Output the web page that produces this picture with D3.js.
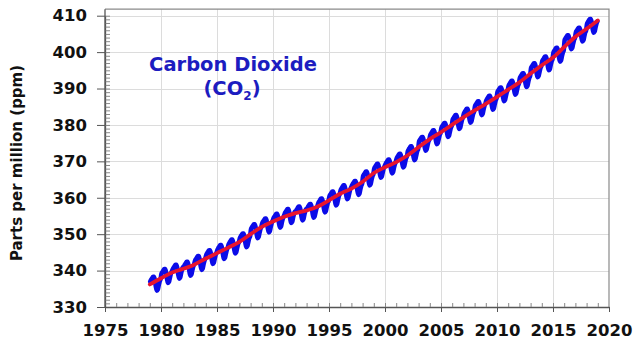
<!DOCTYPE html>
<html><head><meta charset="utf-8">
<script src="https://cdn.jsdelivr.net/npm/d3@7"></script>
<style>body{margin:0;background:#fff}</style>
</head><body><svg id="c" width="633" height="341"></svg>
<script>
const xTicks = [1975,1980,1985,1990,1995,2000,2005,2010,2015,2020];
const yTicks = [330,340,350,360,370,380,390,400,410];
const firstYear = 1979;
// monthly mean CO2 (ppm), one row per year, Jan..Dec
const monthlyCO2 = [
[337.0,337.5,337.9,338.3,338.3,337.3,335.6,334.5,334.8,335.9,337.0,337.6],
[339.1,339.6,340.0,340.4,340.4,339.4,337.7,336.6,336.9,338.0,339.1,339.7],
[340.3,340.8,341.2,341.6,341.6,340.6,338.9,337.8,338.1,339.2,340.3,340.9],
[341.1,341.6,342.0,342.4,342.4,341.4,339.7,338.6,338.9,340.0,341.1,341.7],
[342.7,343.2,343.6,344.0,344.0,343.0,341.3,340.2,340.5,341.6,342.7,343.3],
[344.3,344.8,345.2,345.6,345.6,344.6,342.9,341.8,342.1,343.2,344.3,344.9],
[345.7,346.2,346.6,347.0,347.0,346.0,344.3,343.2,343.5,344.6,345.7,346.3],
[347.2,347.7,348.1,348.5,348.5,347.5,345.8,344.7,345.0,346.1,347.2,347.8],
[348.9,349.4,349.8,350.2,350.2,349.2,347.5,346.4,346.7,347.8,348.9,349.5],
[351.4,351.9,352.3,352.7,352.7,351.7,350.0,348.9,349.2,350.3,351.4,352.0],
[353.0,353.5,353.9,354.3,354.3,353.3,351.6,350.5,350.8,351.9,353.0,353.6],
[354.3,354.8,355.2,355.6,355.6,354.6,352.9,351.8,352.1,353.2,354.3,354.9],
[355.6,356.1,356.5,356.9,356.9,355.9,354.2,353.1,353.4,354.5,355.6,356.2],
[356.3,356.8,357.2,357.6,357.6,356.6,354.9,353.8,354.1,355.2,356.3,356.9],
[357.0,357.5,357.9,358.3,358.3,357.3,355.6,354.5,354.8,355.9,357.0,357.6],
[358.5,359.0,359.4,359.8,359.8,358.8,357.1,356.0,356.3,357.4,358.5,359.1],
[360.4,360.9,361.3,361.7,361.7,360.7,359.0,357.9,358.2,359.3,360.4,361.0],
[362.1,362.6,363.0,363.4,363.4,362.4,360.7,359.6,359.9,361.0,362.1,362.7],
[363.3,363.8,364.2,364.6,364.6,363.6,361.9,360.8,361.1,362.2,363.3,363.9],
[365.9,366.4,366.8,367.2,367.2,366.2,364.5,363.4,363.7,364.8,365.9,366.5],
[368.0,368.5,368.9,369.3,369.3,368.3,366.6,365.5,365.8,366.9,368.0,368.6],
[369.2,369.7,370.1,370.5,370.5,369.5,367.8,366.7,367.0,368.1,369.2,369.8],
[370.8,371.3,371.7,372.1,372.1,371.1,369.4,368.3,368.6,369.7,370.8,371.4],
[372.8,373.3,373.7,374.1,374.1,373.1,371.4,370.3,370.6,371.7,372.8,373.4],
[375.4,375.9,376.3,376.7,376.7,375.7,374.0,372.9,373.2,374.3,375.4,376.0],
[377.2,377.7,378.1,378.5,378.5,377.5,375.8,374.7,375.0,376.1,377.2,377.8],
[379.2,379.7,380.1,380.5,380.5,379.5,377.8,376.7,377.0,378.1,379.2,379.8],
[381.4,381.9,382.3,382.7,382.7,381.7,380.0,378.9,379.2,380.3,381.4,382.0],
[383.1,383.6,384.0,384.4,384.4,383.4,381.7,380.6,380.9,382.0,383.1,383.7],
[385.2,385.7,386.1,386.5,386.5,385.5,383.8,382.7,383.0,384.1,385.2,385.8],
[386.7,387.2,387.6,388.0,388.0,387.0,385.3,384.2,384.5,385.6,386.7,387.3],
[389.0,389.5,389.9,390.3,390.3,389.3,387.6,386.5,386.8,387.9,389.0,389.6],
[390.8,391.3,391.7,392.1,392.1,391.1,389.4,388.3,388.6,389.7,390.8,391.4],
[392.9,393.4,393.8,394.2,394.2,393.2,391.5,390.4,390.7,391.8,392.9,393.5],
[395.6,396.1,396.5,396.9,396.9,395.9,394.2,393.1,393.4,394.5,395.6,396.2],
[397.5,398.0,398.4,398.8,398.8,397.8,396.1,395.0,395.3,396.4,397.5,398.1],
[399.9,400.4,400.8,401.2,401.2,400.2,398.5,397.4,397.7,398.8,399.9,400.5],
[403.3,403.8,404.2,404.6,404.6,403.6,401.9,400.8,401.1,402.2,403.3,403.9],
[405.4,405.9,406.3,406.7,406.7,405.7,404.0,402.9,403.2,404.3,405.4,406.0],
[407.8,408.3,408.7,409.1,409.1,408.1,406.4,405.3,405.6,406.7,407.8,408.4]
];
// de-seasonalised trend (ppm) at the start of each year
const trendYears = [1979,1980,1981,1982,1983,1984,1985,1986,1987,1988,1989,1990,1991,1992,1993,1994,1995,1996,1997,1998,1999,2000,2001,2002,2003,2004,2005,2006,2007,2008,2009,2010,2011,2012,2013,2014,2015,2016,2017,2018,2019];
const trendCO2 = [336.2,337.9,339.5,340.5,341.7,343.3,344.8,346.3,347.9,350.0,352.0,353.5,354.8,355.8,356.5,357.6,359.3,361.1,362.5,364.4,366.8,368.4,369.8,371.6,373.9,376.1,378.0,380.1,382.1,384.0,385.8,387.7,389.7,391.7,394.1,396.4,398.5,401.4,404.2,406.4,408.7];

const svg = d3.select("#c");
const FONT = "'DejaVu Sans', sans-serif";
const x = d3.scaleLinear().domain([1975,2020]).range([105,609]);
const y = d3.scaleLinear().domain([330,410]).range([307,15.7]);
const yTop = y(411.8);

// grid
const grid = svg.append("g").attr("stroke","#dcdcdc").attr("stroke-width",1);
grid.selectAll("line.v").data(xTicks.filter(d=>d>1975 && d<2020)).join("line")
  .attr("x1",d=>Math.round(x(d))+0.5).attr("x2",d=>Math.round(x(d))+0.5)
  .attr("y1",yTop).attr("y2",y(330));
grid.selectAll("line.h").data(yTicks.filter(d=>d>330)).join("line")
  .attr("y1",d=>Math.round(y(d))+0.5).attr("y2",d=>Math.round(y(d))+0.5)
  .attr("x1",x(1975)).attr("x2",x(2020));

// frame top/right
svg.append("path").attr("d",`M${x(1975)},${yTop}H${x(2020)}V${y(330)}`)
  .attr("fill","none").attr("stroke","#8a8a8a").attr("stroke-width",1.2);

// monthly series
const monthly = [];
monthlyCO2.forEach((row,i)=>row.forEach((v,m)=>monthly.push({t:firstYear+i+(m+0.5)/12,v})));
svg.append("path").datum(monthly)
  .attr("d",d3.line().x(d=>x(d.t)).y(d=>y(d.v)).curve(d3.curveMonotoneX))
  .attr("fill","none").attr("stroke","#0b0be8").attr("stroke-width",4.6)
  .attr("stroke-linejoin","round").attr("stroke-linecap","round");

// trend
const trend = trendYears.map((t,i)=>({t,v:trendCO2[i]}));
svg.append("path").datum(trend)
  .attr("d",d3.line().x(d=>x(d.t)).y(d=>y(d.v)).curve(d3.curveMonotoneX))
  .attr("fill","none").attr("stroke","#e8142e").attr("stroke-width",3.8)
  .attr("stroke-linejoin","round").attr("stroke-linecap","round");

// axes
function styleAxis(g){
  g.selectAll("path.domain").attr("stroke","#555").attr("stroke-width",1.3);
  g.selectAll(".tick line").attr("stroke","#555");
  g.selectAll("text").attr("font-family",FONT).attr("font-weight","bold")
    .attr("font-size","16.5px").attr("fill","#111");
}
const yAxis = svg.append("g").attr("transform",`translate(${x(1975)},0)`)
  .call(d3.axisLeft(y).tickValues(yTicks).tickSize(8).tickPadding(10).tickSizeOuter(0));
styleAxis(yAxis);
const yMinor = svg.append("g").attr("transform",`translate(${x(1975)},0)`)
  .call(d3.axisRight(y).tickValues(d3.range(331,411,1)).tickSize(5).tickFormat(""));
yMinor.select("path.domain").remove();
yMinor.selectAll(".tick line").attr("stroke","#888");
svg.append("line").attr("x1",x(1975)).attr("x2",x(1975)).attr("y1",yTop).attr("y2",y(330))
  .attr("stroke","#555").attr("stroke-width",1.3);

const xAxis = svg.append("g").attr("transform",`translate(0,${y(330)})`)
  .call(d3.axisBottom(x).tickValues(xTicks).tickFormat(d3.format("d")).tickSize(5).tickPadding(12).tickSizeOuter(0));
styleAxis(xAxis);
const xMinor = svg.append("g").attr("transform",`translate(0,${y(330)})`)
  .call(d3.axisTop(x).tickValues(d3.range(1976,2020,1)).tickSize(4).tickFormat(""));
xMinor.select("path.domain").remove();
xMinor.selectAll(".tick line").attr("stroke","#888");

// y label
svg.append("text").attr("transform","translate(22,163) rotate(-90)")
  .attr("text-anchor","middle").attr("font-family",FONT).attr("font-weight","bold")
  .attr("font-size","15px").attr("fill","#111").text("Parts per million (ppm)");

// title
const title = svg.append("g").attr("font-family",FONT).attr("font-weight","bold")
  .attr("fill","#1c1cc0").attr("text-anchor","middle");
title.append("text").attr("x",233).attr("y",71).attr("font-size","19.5px").text("Carbon Dioxide");
const t2 = title.append("text").attr("x",232).attr("y",95).attr("font-size","19.5px");
t2.append("tspan").text("(CO");
t2.append("tspan").attr("font-size","12px").attr("dy",5).text("2");
t2.append("tspan").attr("dy",-5).text(")");
</script>
</body></html>
